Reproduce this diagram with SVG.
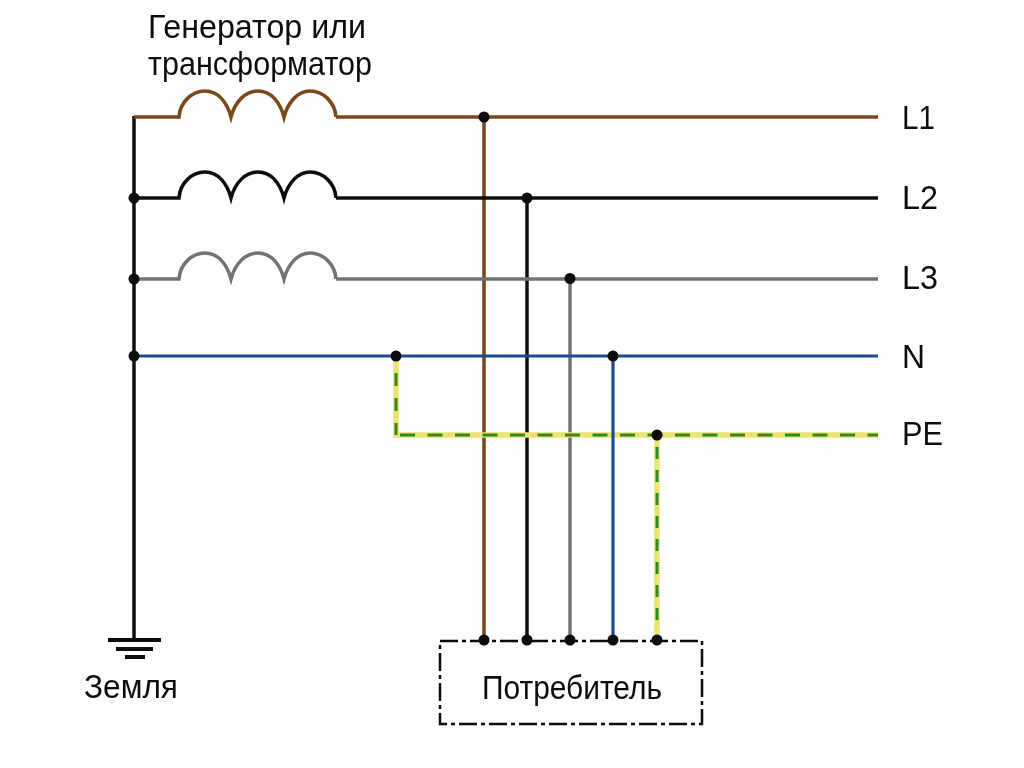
<svg xmlns="http://www.w3.org/2000/svg" width="1024" height="768" viewBox="0 0 1024 768">
<defs>
<filter id="soft" x="-5%" y="-5%" width="110%" height="110%"><feGaussianBlur stdDeviation="0.5"/></filter>
<path id="coil" d="M0 0H45C46 -15 58 -26 71 -26C84 -26 93 -15 97 0C101 -15 111 -26 124 -26C137 -26 146 -15 150 0C154 -15 164 -26 176 -26C189 -26 201 -15 202 0"/>
</defs>
<style>
.w{fill:none}
.br{stroke:#7b4a1c;stroke-width:3.600}
.bk{stroke:#0a0a0a;stroke-width:3.500}
.gr{stroke:#737373;stroke-width:3.500}
.bl{stroke:#1d4c94;stroke-width:3.200}
.ye{stroke:#ebe373;stroke-width:5.500}
.ge{stroke:#2f8a22;stroke-width:3}
.d{fill:#0a0a0a}
text{font-family:"Liberation Sans",Arial,sans-serif;font-size:34px;fill:#111}
.t{font-size:33px}
</style>
<rect width="1024" height="768" fill="#fefefe"/>
<g filter="url(#soft)">
<g id="connectors">
<path class="w bk" d="M134 116V639" stroke-width="4"/>
<path class="w br" d="M484 117V641"/>
<path class="w bk" d="M527 198V641"/>
<path class="w gr" d="M570 278V641"/>
<use href="#coil" x="134" y="117" class="w br"/>
<use href="#coil" x="134" y="198" class="w bk"/>
<use href="#coil" x="134" y="279" class="w gr"/>
<path class="w br" d="M336 117H878"/>
<path class="w bk" d="M336 198H878"/>
<path class="w gr" d="M336 279H878"/>
<path class="w ye" d="M396 356V435H878M657 435V641"/>
<path class="w ge" d="M396 373V435" stroke-dasharray="13 12"/>
<path class="w ge" d="M400 435H878" stroke-dasharray="15 12.500"/>
<path class="w ge" d="M657 447V630" stroke-dasharray="12 11"/>
<path class="w bl" d="M134 356H878M613 356V641"/>
</g>
<g id="junctions">
<circle class="d" cx="484" cy="117" r="5.500"/><circle class="d" cx="527" cy="198" r="5.500"/><circle class="d" cx="570" cy="278.500" r="5.500"/>
<circle class="d" cx="134" cy="198" r="5.500"/><circle class="d" cx="134" cy="279" r="5.500"/><circle class="d" cx="134" cy="356" r="5.500"/>
<circle class="d" cx="396" cy="356" r="5.500"/><circle class="d" cx="613" cy="356" r="5.500"/><circle class="d" cx="657" cy="435" r="5.500"/>
<circle class="d" cx="484" cy="640" r="5.500"/><circle class="d" cx="527" cy="640" r="5.500"/><circle class="d" cx="570" cy="640" r="5.500"/><circle class="d" cx="613" cy="640" r="5.500"/><circle class="d" cx="657" cy="640" r="5.500"/>
</g>
<g id="ground">
<path d="M108 640H161M116 649H153M125 657H145" fill="none" stroke="#0a0a0a" stroke-width="4"/>
<text x="84" y="698" textLength="94" lengthAdjust="spacingAndGlyphs">Земля</text>
</g>
<g id="generator">
<text class="t" x="148" y="38" textLength="218" lengthAdjust="spacingAndGlyphs">Генератор или</text>
<text class="t" x="148" y="75" textLength="224" lengthAdjust="spacingAndGlyphs">трансформатор</text>
</g>
<g id="consumer">
<rect x="440" y="641" width="262" height="83" fill="none" stroke="#111" stroke-width="2.500" stroke-dasharray="18 4 4 4"/>
<text x="482" y="699" textLength="180" lengthAdjust="spacingAndGlyphs">Потребитель</text>
</g>
<g id="labels">
<text x="902" y="128.500" textLength="33" lengthAdjust="spacingAndGlyphs">L1</text>
<text x="902" y="208.500" textLength="36" lengthAdjust="spacingAndGlyphs">L2</text>
<text x="902" y="288.500" textLength="36" lengthAdjust="spacingAndGlyphs">L3</text>
<text x="902" y="367.500" textLength="23" lengthAdjust="spacingAndGlyphs">N</text>
<text x="902" y="445" textLength="41" lengthAdjust="spacingAndGlyphs">PE</text>
</g>
</g>
</svg>
